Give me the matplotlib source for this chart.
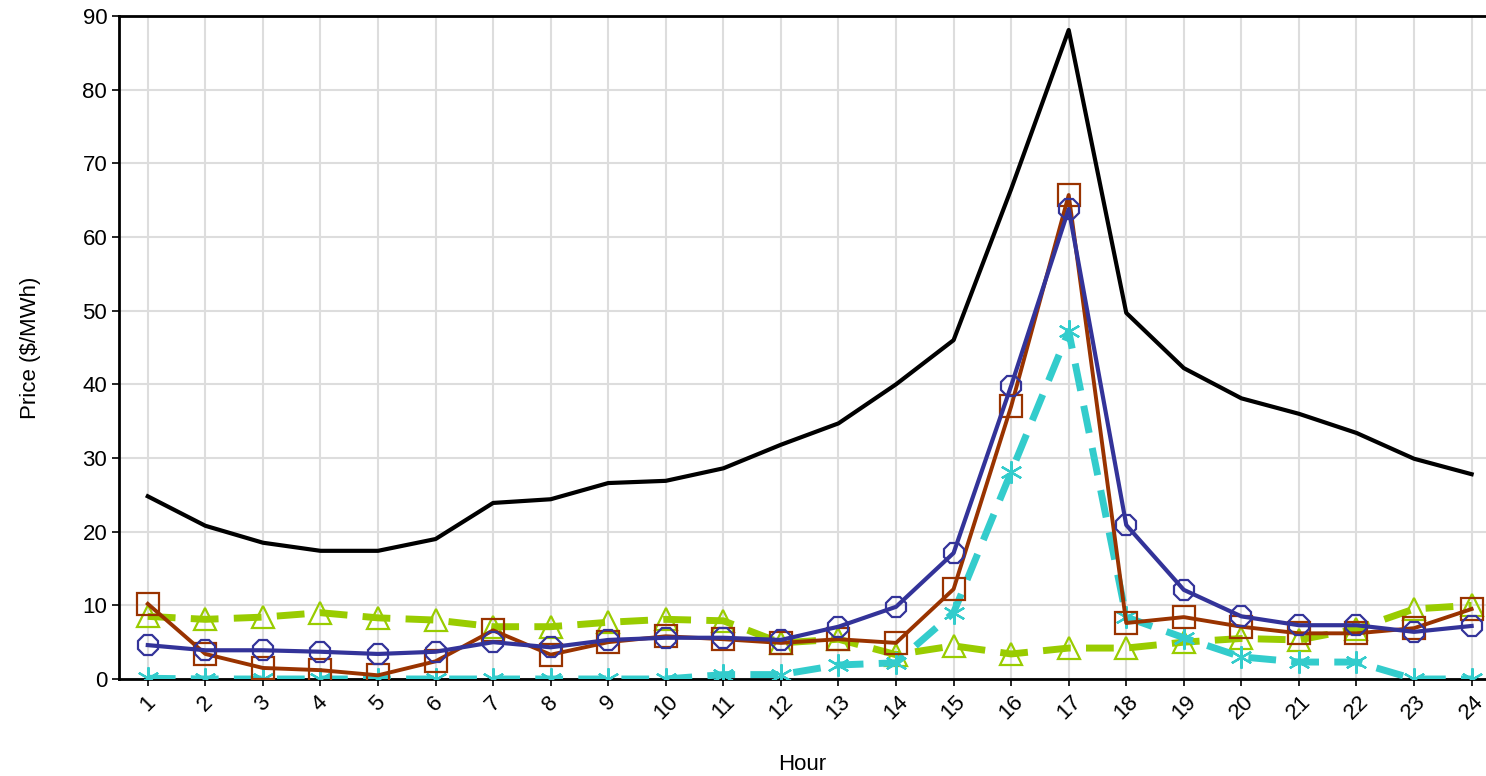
import numpy as np
import matplotlib
matplotlib.use('Agg')
import matplotlib.pyplot as plt

plt.rcParams['font.family'] = ['Liberation Sans', 'DejaVu Sans']

hours = list(range(1, 25))

price_black = [24.8, 20.8, 18.5, 17.4, 17.4, 19.0, 23.9, 24.4, 26.6, 26.9, 28.6, 31.8,
               34.7, 40.0, 46.0, 66.5, 88.1, 49.7, 42.2, 38.1, 36.0, 33.4, 29.9, 27.8]
price_square = [10.2, 3.4, 1.5, 1.2, 0.5, 2.4, 6.6, 3.3, 5.0, 5.8, 5.4, 4.9,
                5.4, 4.9, 12.2, 37.0, 65.7, 7.6, 8.4, 7.1, 6.2, 6.2, 6.9, 9.5]
price_octagon = [4.6, 3.9, 3.9, 3.7, 3.4, 3.7, 5.0, 4.3, 5.3, 5.6, 5.6, 5.3,
                 7.1, 9.8, 17.1, 39.8, 63.8, 20.9, 12.1, 8.5, 7.3, 7.3, 6.4, 7.2]
price_triangle = [8.5, 8.1, 8.4, 9.0, 8.3, 8.0, 7.1, 7.1, 7.7, 8.1, 7.9, 4.9,
                  5.4, 3.3, 4.5, 3.4, 4.2, 4.2, 5.0, 5.5, 5.3, 6.8, 9.5, 10.0]
price_star = [0.1, 0.0, 0.0, 0.0, 0.0, 0.0, 0.0, 0.0, 0.0, 0.0, 0.6, 0.6,
              1.9, 2.2, 9.0, 28.1, 47.2, 8.4, 5.6, 3.0, 2.3, 2.3, 0.0, 0.0]

fig = plt.figure(figsize=(14.86, 7.76), dpi=100)
ax = fig.add_axes([119/1486, 1 - 679/776, 1 - 119/1486, (679 - 16)/776])

ax.plot(hours, price_black, color='black', lw=3, zorder=3)
ax.plot(hours, price_triangle, color='#99cc00', lw=5, ls=(0, (4, 2.2)),
        marker='^', ms=16, mfc='none', mec='#99cc00', mew=1.6, zorder=4)
ax.plot(hours, price_star, color='#33cccc', lw=5, ls=(0, (4, 2.2)),
        marker=(6, 2, 0), ms=16, mec='#33cccc', mew=1.6, zorder=4)
ax.plot(hours, price_square, color='#993300', lw=2.8,
        marker='s', ms=16, mfc='none', mec='#993300', mew=1.6, zorder=5)
ax.plot(hours, price_octagon, color='#333399', lw=3,
        marker='8', ms=16, mfc='none', mec='#333399', mew=1.6, zorder=6)

ax.set_xlim(0.5, 24.25)
ax.set_ylim(0, 90)
ax.set_xticks(hours)
ax.set_xticklabels([str(h) for h in hours], rotation=45, ha='center', va='top')
ax.set_yticks(np.arange(0, 91, 10))
ax.tick_params(axis='both', labelsize=16, length=5, width=1.2)
ax.tick_params(axis='x', pad=4)
ax.grid(True, color='#dddddd', lw=1.5, zorder=0)
ax.set_axisbelow(True)

for s in ['left', 'bottom', 'top']:
    ax.spines[s].set_linewidth(2)
    ax.spines[s].set_color('black')
ax.spines['right'].set_visible(False)

ax.set_ylabel('Price ($/MWh)', fontsize=16, labelpad=30)
ax.set_xlabel('Hour', fontsize=16, labelpad=22)

fig.savefig('out.png', dpi=100)
